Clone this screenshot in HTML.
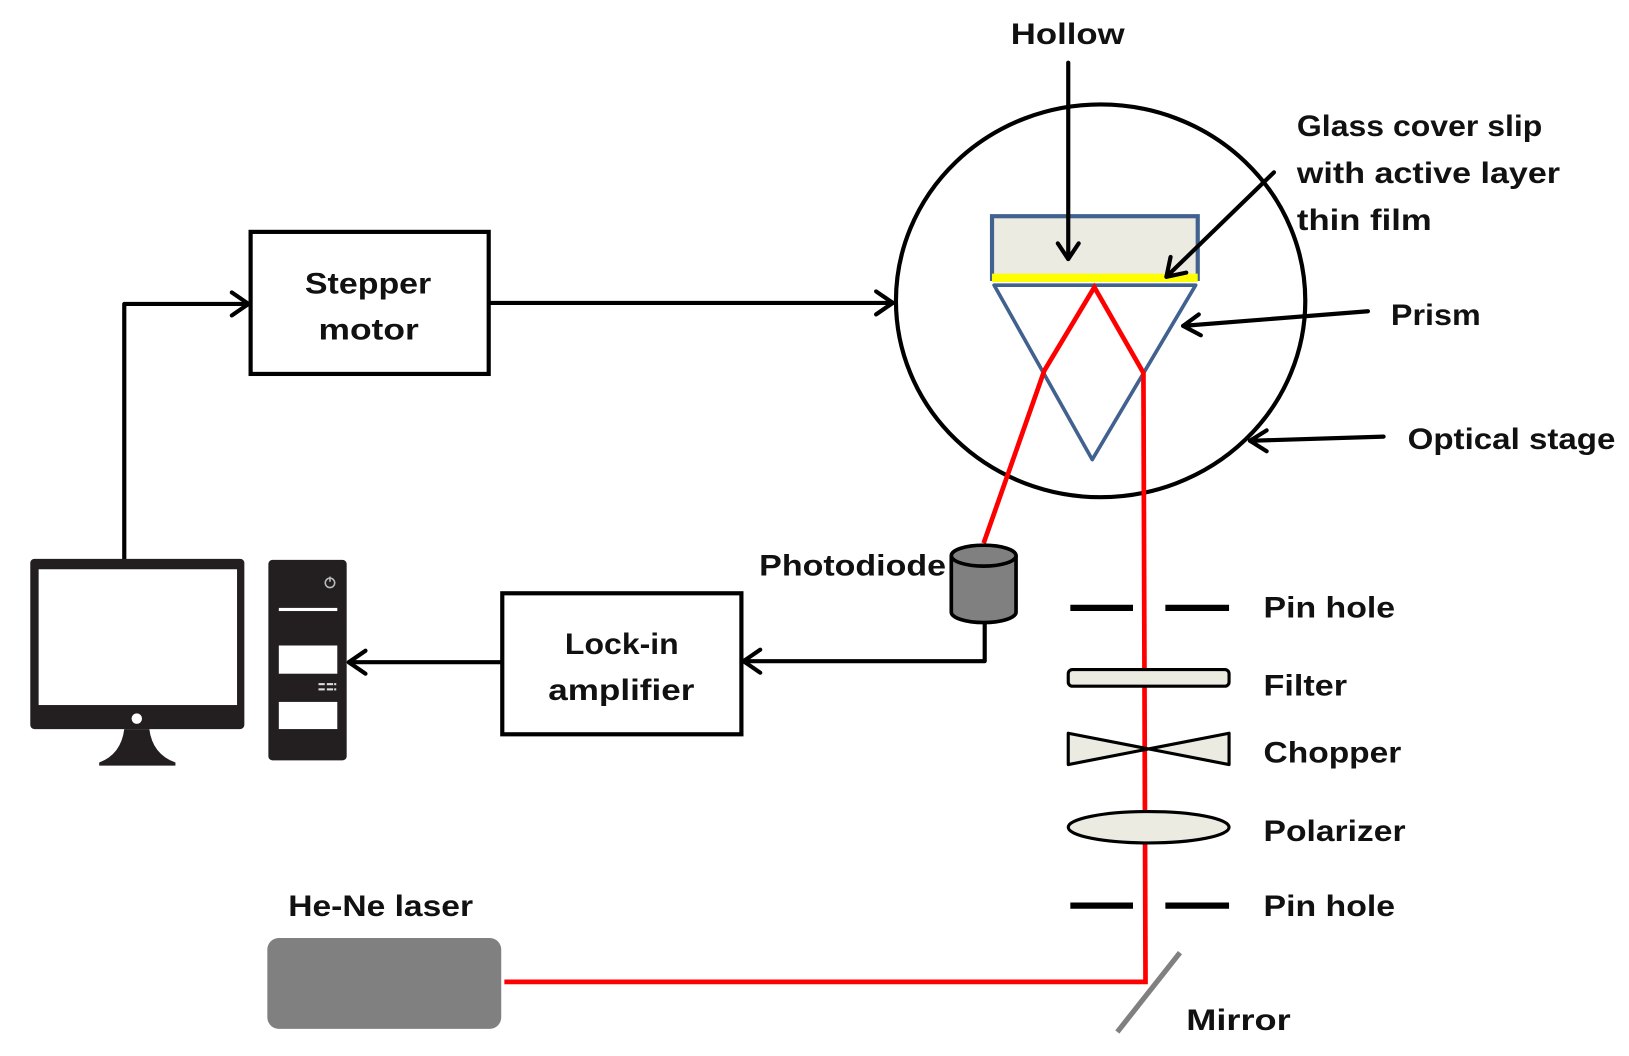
<!DOCTYPE html>
<html><head><meta charset="utf-8"><style>
html,body{margin:0;padding:0;background:#fff;width:1629px;height:1056px;overflow:hidden}
svg{display:block}
text{font-family:"Liberation Sans",sans-serif;font-weight:bold;font-size:28px;fill:#111}
</style></head><body>
<svg width="1629" height="1056" viewBox="0 0 1560 1011" preserveAspectRatio="none" xmlns="http://www.w3.org/2000/svg">
<!-- optical stage -->
<ellipse cx="1054" cy="288" rx="196" ry="188" fill="none" stroke="#000" stroke-width="4"/>
<rect x="950" y="207" width="197" height="60" fill="#ecebe1" stroke="#41618f" stroke-width="4"/>
<rect x="950" y="262" width="197" height="8" fill="#ffff00"/>
<polygon points="952,273 1145,273 1046,440" fill="none" stroke="#41618f" stroke-width="3.5" stroke-linejoin="round"/>
<polyline points="942,520 1000,355 1048,275 1095,357 1097,940 483,940" fill="none" stroke="#ff0000" stroke-width="4.5"/>
<!-- arrows -->
<g stroke="#000" stroke-width="4" fill="none" stroke-linecap="round" stroke-linejoin="round">
<line x1="1023" y1="60" x2="1023" y2="248"/>
<polyline points="1013,233 1023,248 1033,233"/>
<line x1="1220" y1="165" x2="1117" y2="265"/>
<polyline points="1136,261 1117,265 1121,246"/>
<line x1="1310" y1="298" x2="1133" y2="312"/>
<polyline points="1150,321 1133,312 1148,301"/>
<line x1="1325" y1="418" x2="1197" y2="422"/>
<polyline points="1213,432 1197,422 1213,412"/>
<line x1="468" y1="290" x2="855" y2="290"/>
<polyline points="839,279 855,290 839,301"/>
<polyline points="119,535 119,291 238,291"/>
<polyline points="222,280 238,291 222,302"/>
<line x1="481" y1="634" x2="334" y2="634"/>
<polyline points="350,623 334,634 350,645"/>
<polyline points="943,596 943,633 712,633"/>
<polyline points="728,622 712,633 728,644"/>
</g>
<rect x="240" y="222" width="228" height="136" fill="#fff" stroke="#000" stroke-width="4"/>
<rect x="481" y="568" width="229" height="135" fill="#fff" stroke="#000" stroke-width="4"/>
<!-- photodiode -->
<path d="M911,532 L911,586 A31,10 0 0 0 973,586 L973,532" fill="#808080" stroke="#000" stroke-width="3.5"/>
<ellipse cx="942" cy="532" rx="31" ry="10" fill="#808080" stroke="#000" stroke-width="3.5"/>
<!-- monitor -->
<rect x="29" y="535" width="205" height="163" rx="4" fill="#231f20"/>
<rect x="37" y="545" width="190" height="130" fill="#fff"/>
<circle cx="131" cy="688" r="5" fill="#fff"/>
<path d="M119,698 L143,698 Q146,722 168,730 L168,733 L95,733 L95,730 Q116,722 119,698 Z" fill="#231f20"/>
<!-- tower -->
<rect x="257" y="536" width="75" height="192" rx="4" fill="#231f20"/>
<rect x="267" y="582" width="56" height="3" fill="#fff"/>
<rect x="267" y="618" width="56" height="27" fill="#fff"/>
<rect x="267" y="672" width="56" height="26" fill="#fff"/>
<circle cx="316" cy="558" r="4.5" fill="none" stroke="#bbb" stroke-width="1.5"/>
<line x1="316" y1="552" x2="316" y2="557" stroke="#bbb" stroke-width="1.5"/>
<g fill="#ddd"><rect x="305" y="654" width="6" height="2"/><rect x="313" y="654" width="6" height="2"/><rect x="305" y="659" width="6" height="2"/><rect x="313" y="659" width="6" height="2"/><rect x="320" y="654" width="2" height="2"/><rect x="320" y="659" width="2" height="2"/></g>
<!-- optics -->
<g stroke="#000" stroke-width="6">
<line x1="1025" y1="582" x2="1085" y2="582"/><line x1="1116" y1="582" x2="1177" y2="582"/>
<line x1="1025" y1="867" x2="1085" y2="867"/><line x1="1116" y1="867" x2="1177" y2="867"/>
</g>
<rect x="1023" y="641" width="154" height="16" rx="4" fill="#ecebe1" stroke="#000" stroke-width="3"/>
<polygon points="1023,702 1177,732 1177,702 1023,732" fill="#ecebe1" stroke="#000" stroke-width="3" stroke-linejoin="round"/>
<ellipse cx="1100" cy="792" rx="77" ry="15" fill="#ecebe1" stroke="#000" stroke-width="3"/>
<line x1="1070" y1="988" x2="1130" y2="912" stroke="#808080" stroke-width="5"/>
<rect x="256" y="898" width="224" height="87" rx="11" fill="#808080"/>
<!-- labels -->
<text x="968" y="42" textLength="109" lengthAdjust="spacingAndGlyphs">Hollow</text>
<text x="1242" y="130" textLength="235" lengthAdjust="spacingAndGlyphs">Glass cover slip</text>
<text x="1242" y="175" textLength="252" lengthAdjust="spacingAndGlyphs">with active layer</text>
<text x="1242" y="220" textLength="129" lengthAdjust="spacingAndGlyphs">thin film</text>
<text x="1332" y="311" textLength="86" lengthAdjust="spacingAndGlyphs">Prism</text>
<text x="1348" y="430" textLength="199" lengthAdjust="spacingAndGlyphs">Optical stage</text>
<text x="292" y="281" textLength="121" lengthAdjust="spacingAndGlyphs">Stepper</text>
<text x="305" y="325" textLength="96" lengthAdjust="spacingAndGlyphs">motor</text>
<text x="727" y="551" textLength="179" lengthAdjust="spacingAndGlyphs">Photodiode</text>
<text x="541" y="626" textLength="109" lengthAdjust="spacingAndGlyphs">Lock-in</text>
<text x="525" y="670" textLength="140" lengthAdjust="spacingAndGlyphs">amplifier</text>
<text x="1210" y="591" textLength="126" lengthAdjust="spacingAndGlyphs">Pin hole</text>
<text x="1210" y="666" textLength="80" lengthAdjust="spacingAndGlyphs">Filter</text>
<text x="1210" y="730" textLength="132" lengthAdjust="spacingAndGlyphs">Chopper</text>
<text x="1210" y="805" textLength="136" lengthAdjust="spacingAndGlyphs">Polarizer</text>
<text x="1210" y="877" textLength="126" lengthAdjust="spacingAndGlyphs">Pin hole</text>
<text x="276" y="877" textLength="177" lengthAdjust="spacingAndGlyphs">He-Ne laser</text>
<text x="1136" y="986" textLength="100" lengthAdjust="spacingAndGlyphs">Mirror</text>
</svg>
</body></html>
